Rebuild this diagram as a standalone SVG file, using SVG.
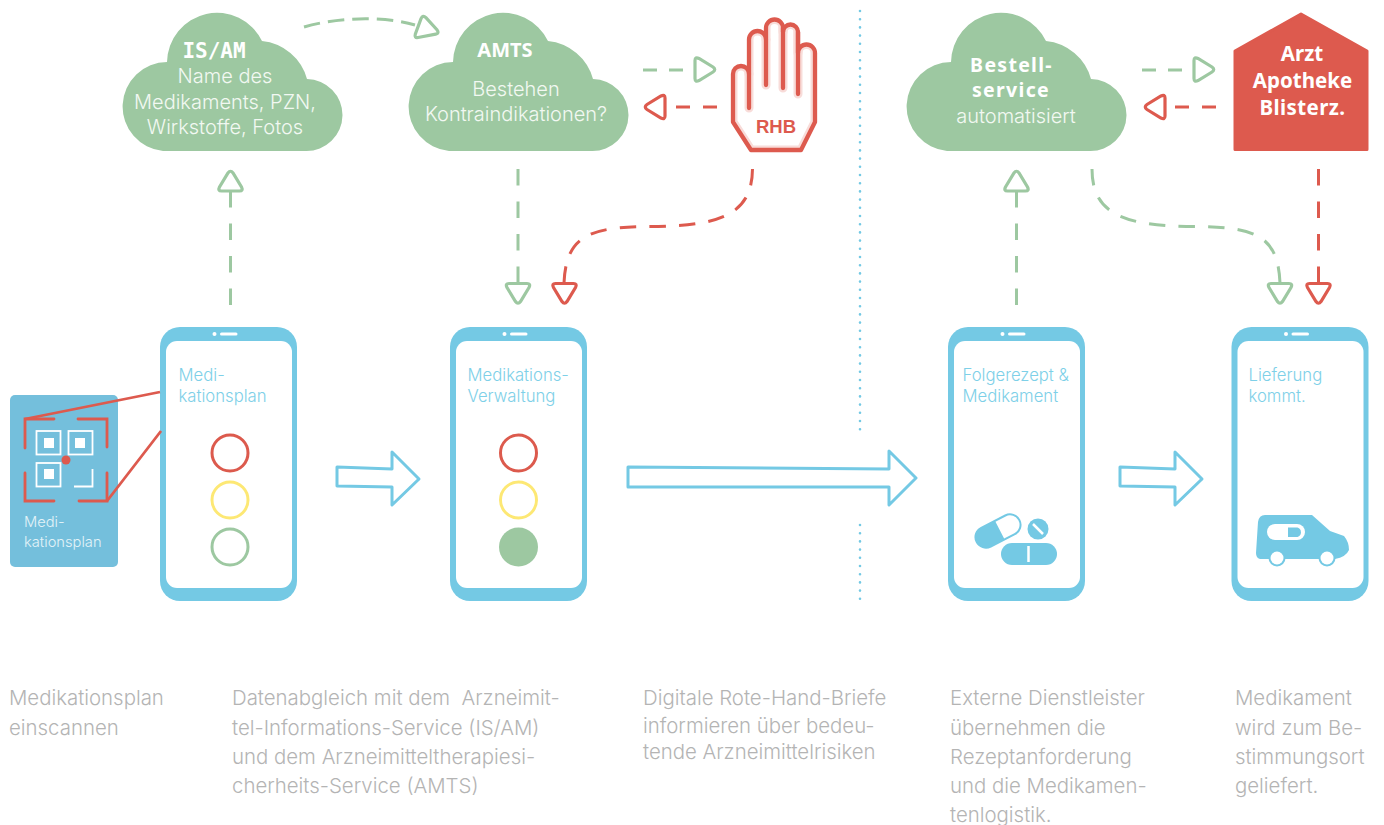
<svg xmlns="http://www.w3.org/2000/svg" xmlns:xlink="http://www.w3.org/1999/xlink" width="1384" height="825" viewBox="0 0 1384 825">
<style>
text{font-family:Inter,"Liberation Sans",sans-serif;font-weight:300}
.cap{font-size:20.400px;fill:#b4b4b4}
.scr{font-size:16.700px;fill:#7ed0e8}
.cl{font-size:20px;fill:#f2f8f2;text-anchor:middle}
.hd{font-family:"Noto Sans",sans-serif;font-weight:700;fill:#fff;text-anchor:middle}
.g{stroke:#9dc8a1}
.r{stroke:#dd5a4e}
.dash{fill:none;stroke-width:3;stroke-dasharray:16.500 16}
.tg{fill:#fff;stroke:#9dc8a1;stroke-width:3.200}
.tr{fill:#fff;stroke:#dd5a4e;stroke-width:3.200}
.big{fill:#fff;stroke:#74c9e4;stroke-width:3;stroke-linejoin:round}
.ring{fill:none;stroke-width:3}
</style>
<defs>
<path id="cloud" fill="#9dc8a1" d="M163,151H306A36,36 0 0 0 307,79A52,52 0 0 0 262,41A50,50 0 0 0 167,62A44.600,44.600 0 0 0 163,151Z"/>
<path id="tri" d="M-2.500,-8Q0,-11.500 2.500,-8L11,6Q13,10 9,10H-9Q-13,10 -11,6Z"/>
<path id="hand-shape" d="M733,122V74A8,8 0 0 1 749,74V39.500A8.500,8.500 0 0 1 766,39.500V28A8.500,8.500 0 0 1 783,28V32A7.500,7.500 0 0 1 798,32V53A8.500,8.500 0 0 1 815,53V122L801,150H751Z"/>
<path id="hand-lines" d="M749,74V108M766,39.500V85M783,28V88M798,32V94"/>
<g id="phone">
<rect x="0" y="0" width="137" height="274" rx="20" fill="#74c9e4"/>
<rect x="6" y="14" width="126" height="247" rx="11" fill="#fff"/>
<circle cx="54.500" cy="7" r="2" fill="#fff"/>
<rect x="60" y="5.500" width="17.500" height="3" rx="1.500" fill="#fff"/>
</g>
<clipPath id="handclip"><use xlink:href="#hand-shape"/></clipPath>
</defs>

<g id="divider"><path d="M860,11V432M860,525V603" fill="none" stroke="#74c9e4" stroke-width="2.600" stroke-linecap="round" stroke-dasharray="0 8.200"/></g>

<g id="connectors" stroke-linecap="butt">
<path class="dash g" d="M230.500,305V191"/>
<path class="dash g" style="stroke-dasharray:16.500 8" d="M304,27C335,18 380,15 415,25"/>
<path class="dash g" style="stroke-dasharray:14 12" d="M643,70H691"/>
<path class="dash r" style="stroke-dasharray:14 13" d="M717,107H668"/>
<path class="dash g" d="M518,169V283"/>
<path class="dash r" pathLength="257" style="stroke-dasharray:16.700 13.300" d="M752.500,169C752,215 720,226 650,226.500C590,227 566,235 564,283"/>
<path class="dash g" d="M1016.500,305V191"/>
<path class="dash g" style="stroke-dasharray:14 12" d="M1142,70H1190"/>
<path class="dash r" style="stroke-dasharray:14 13" d="M1216,107H1167"/>
<path class="dash g" pathLength="257" style="stroke-dasharray:16.700 13.300" d="M1092,169C1092,215 1125,226 1195,226.500C1255,227 1278,235 1280,283"/>
<path class="dash r" d="M1318.500,169V283"/>
<use xlink:href="#tri" class="tg" transform="translate(230.500,181)"/>
<use xlink:href="#tri" class="tg" transform="translate(425,26) rotate(-11)"/>
<use xlink:href="#tri" class="tg" transform="translate(705,69.500) rotate(90)"/>
<use xlink:href="#tri" class="tr" transform="translate(655,107) rotate(-90)"/>
<use xlink:href="#tri" class="tg" transform="translate(518,293.500) rotate(180)"/>
<use xlink:href="#tri" class="tr" transform="translate(564.500,293.500) rotate(180)"/>
<use xlink:href="#tri" class="tg" transform="translate(1016.500,181)"/>
<use xlink:href="#tri" class="tg" transform="translate(1204,69.500) rotate(90)"/>
<use xlink:href="#tri" class="tr" transform="translate(1155,107) rotate(-90)"/>
<use xlink:href="#tri" class="tg" transform="translate(1280,293.500) rotate(180)"/>
<use xlink:href="#tri" class="tr" transform="translate(1318.500,293.500) rotate(180)"/>
<path class="big" d="M337,467L392,469V452L419,479L392,505V487L337,486Z"/>
<path class="big" d="M628,467L889,469V451L916,478L889,505V487L628,487Z"/>
<path class="big" d="M1120,467L1175,469V452L1202,479L1175,505V487L1120,486Z"/>
</g>

<g id="cloud-isam">
<use xlink:href="#cloud"/>
<text x="214" y="58" class="hd" style="font-family:'DejaVu Sans Mono',monospace;font-size:21px">IS/AM</text>
<text x="225" y="83" class="cl">Name des</text>
<text x="225" y="109" class="cl">Medikaments, PZN,</text>
<text x="225" y="134" class="cl">Wirkstoffe, Fotos</text>
</g>
<g id="cloud-amts">
<use xlink:href="#cloud" x="286"/>
<text x="505" y="57" class="hd" style="font-size:20px">AMTS</text>
<text x="516" y="96" class="cl">Bestehen</text>
<text x="516" y="121" class="cl">Kontraindikationen?</text>
</g>
<g id="hand-rhb">
<use xlink:href="#hand-shape" fill="#fff"/>
<g clip-path="url(#handclip)" fill="none" stroke="#f8dcd9" stroke-width="9" stroke-linejoin="round" stroke-linecap="round">
<use xlink:href="#hand-shape"/>
<use xlink:href="#hand-lines"/>
</g>
<g fill="none" stroke="#dd5a4e" stroke-width="4.300" stroke-linejoin="round" stroke-linecap="round">
<use xlink:href="#hand-shape"/>
<use xlink:href="#hand-lines"/>
</g>
<text x="776" y="133" style="font-family:'Liberation Sans',sans-serif;font-weight:700;font-size:18.500px;fill:#dd5a4e;text-anchor:middle">RHB</text>
</g>
<g id="cloud-bestell">
<use xlink:href="#cloud" x="784"/>
<text x="1011.500" y="72" class="hd" style="font-size:19.500px;letter-spacing:1.300px">Bestell-</text>
<text x="1011" y="97" class="hd" style="font-size:19.500px;letter-spacing:1.300px">service</text>
<text x="1016" y="123" class="cl">automatisiert</text>
</g>
<g id="house">
<path fill="#dd5a4e" stroke="#dd5a4e" stroke-width="3" stroke-linejoin="round" d="M1235,51L1301,14L1367,51V149.500H1235Z"/>
<text x="1302" y="61" class="hd" style="font-size:20.500px">Arzt</text>
<text x="1302.500" y="88" class="hd" style="font-size:20.500px">Apotheke</text>
<text x="1302.500" y="115" class="hd" style="font-size:20.500px;letter-spacing:.4px">Blisterz.</text>
</g>

<g id="plan-card">
<rect x="10" y="395" width="108" height="172" rx="5" fill="#74bfdc"/>
<g fill="none" stroke="#fff" stroke-width="1.800">
<rect x="36.500" y="431" width="24" height="23.500"/>
<rect x="68.500" y="431" width="24" height="23.500"/>
<rect x="36.500" y="463" width="24" height="23.500"/>
<path d="M92.500,469V486.500H74"/>
</g>
<g fill="#fff">
<rect x="44" y="438" width="10" height="10"/>
<rect x="75" y="438" width="10" height="10"/>
<rect x="44" y="469" width="10" height="10"/>
</g>
<g fill="none" stroke="#dd5a4e" stroke-width="2.800" stroke-linecap="round">
<path d="M54,419H25V448"/>
<path d="M78,419H107V447"/>
<path d="M25,473V501H54"/>
<path d="M79,501H107V473"/>
</g>
<circle cx="66" cy="460" r="4.500" fill="#dd5a4e"/>
<text x="24" y="527" style="font-size:14.700px;fill:#e3f3f8">Medi-</text>
<text x="24" y="547" style="font-size:14.700px;fill:#e3f3f8">kationsplan</text>
</g>

<g id="phone-1">
<use xlink:href="#phone" x="160" y="327"/>
<text x="178.500" y="381" class="scr">Medi-</text>
<text x="178.500" y="402" class="scr">kationsplan</text>
<circle cx="230" cy="453" r="18" class="ring" stroke="#dc5a4d"/>
<circle cx="230" cy="500" r="18" class="ring" stroke="#fde874"/>
<circle cx="230" cy="547" r="18" class="ring" stroke="#9dc8a1"/>
</g>
<g id="plan-links"><path d="M25,419L160,392M107,501L161,431" fill="none" stroke="#dd5a4e" stroke-width="2.800"/></g>
<g id="phone-2">
<use xlink:href="#phone" x="450" y="327"/>
<text x="467.500" y="381" class="scr">Medikations-</text>
<text x="467.500" y="402" class="scr">Verwaltung</text>
<circle cx="518.500" cy="453" r="18" class="ring" stroke="#dc5a4d"/>
<circle cx="518.500" cy="500" r="18" class="ring" stroke="#fde874"/>
<circle cx="518.500" cy="547" r="19.500" fill="#9dc8a1"/>
</g>
<g id="phone-3">
<use xlink:href="#phone" x="948" y="327"/>
<text x="962.500" y="381" class="scr">Folgerezept &amp;</text>
<text x="962.500" y="402" class="scr">Medikament</text>
<g transform="rotate(-27 998 531)">
<rect x="973" y="519.500" width="50" height="23" rx="11.500" fill="#74c9e4"/>
<path d="M1000,521.500H1011.500A9.500,9.500 0 0 1 1011.500,540.500H1000Z" fill="#fff"/>
</g>
<circle cx="1038" cy="529" r="10.500" fill="#74c9e4"/>
<path d="M1033,524L1043,534" stroke="#fff" stroke-width="2.500"/>
<rect x="1001" y="543" width="56" height="22" rx="11" fill="#74c9e4"/>
<path d="M1028.500,546V562" stroke="#fff" stroke-width="2.500"/>
</g>
<g id="phone-4">
<use xlink:href="#phone" x="1231.500" y="327"/>
<text x="1248.500" y="381" class="scr">Lieferung</text>
<text x="1248.500" y="402" class="scr">kommt.</text>
<path fill="#74c9e4" d="M1265,515H1312L1330,531L1344,536Q1349,542 1349,550Q1346,557 1335,559H1260Q1256,558 1256,553L1258,522Q1259,515 1265,515Z"/>
<circle cx="1277" cy="558" r="8.500" fill="#74c9e4"/>
<circle cx="1327" cy="558" r="8.500" fill="#74c9e4"/>
<circle cx="1277" cy="558" r="6.500" fill="#fff"/>
<circle cx="1327" cy="558" r="6.500" fill="#fff"/>
<rect x="1267" y="524" width="38" height="16" rx="8" fill="#fff"/>
<path fill="#74c9e4" d="M1288,527.500H1297.500A5,5 0 0 1 1297.500,537H1288Z"/>
</g>

<g id="captions">
<text class="cap" x="9" y="705">Medikationsplan</text>
<text class="cap" x="9" y="735">einscannen</text>
<text class="cap" x="232" y="705">Datenabgleich mit dem &#160;Arzneimit-</text>
<text class="cap" x="232" y="735">tel-Informations-Service (IS/AM)</text>
<text class="cap" x="232" y="764">und dem Arzneimitteltherapiesi-</text>
<text class="cap" x="232" y="793">cherheits-Service (AMTS)</text>
<text class="cap" x="643" y="705">Digitale Rote-Hand-Briefe</text>
<text class="cap" x="643" y="733">informieren über bedeu-</text>
<text class="cap" x="643" y="759">tende Arzneimittelrisiken</text>
<text class="cap" x="950" y="705">Externe Dienstleister</text>
<text class="cap" x="950" y="735">übernehmen die</text>
<text class="cap" x="950" y="764">Rezeptanforderung</text>
<text class="cap" x="950" y="793">und die Medikamen-</text>
<text class="cap" x="950" y="822">tenlogistik.</text>
<text class="cap" x="1235" y="705">Medikament</text>
<text class="cap" x="1235" y="735">wird zum Be-</text>
<text class="cap" x="1235" y="764">stimmungsort</text>
<text class="cap" x="1235" y="793">geliefert.</text>
</g>
</svg>
